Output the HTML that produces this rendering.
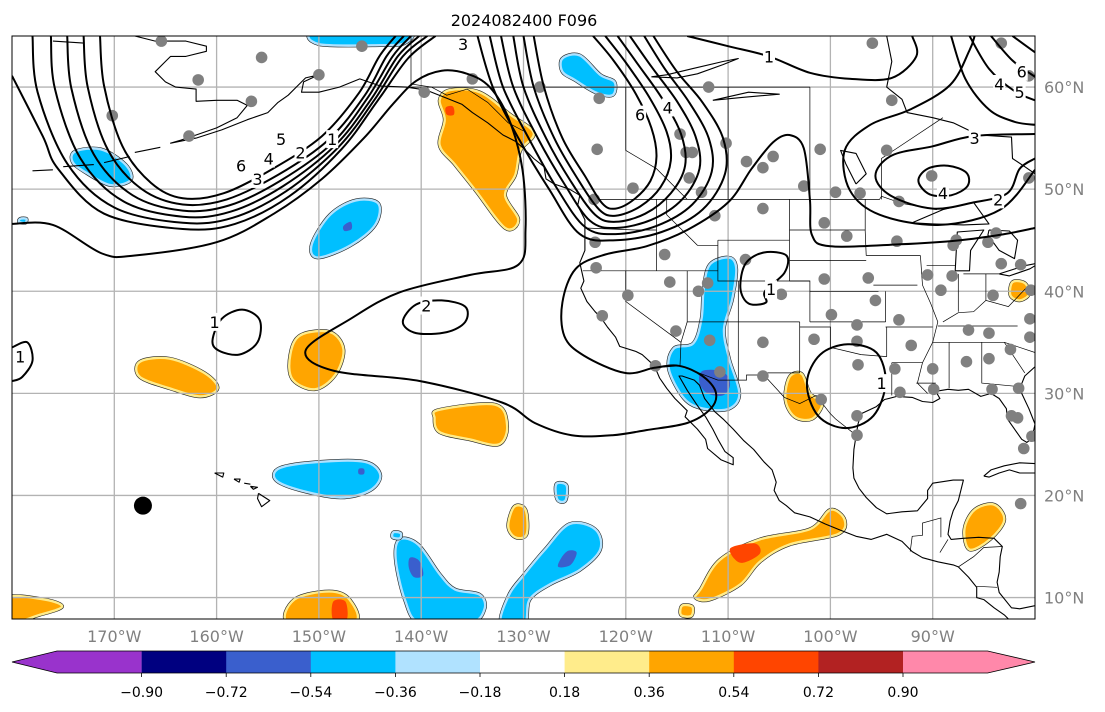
<!DOCTYPE html>
<html><head><meta charset="utf-8"><style>
html,body{margin:0;padding:0;background:#fff;width:1105px;height:712px;overflow:hidden}
svg{display:block;font-family:"DejaVu Sans","Liberation Sans",sans-serif}
</style></head><body>
<svg id="fig" width="1105" height="712" viewBox="0 0 1105 712" xmlns="http://www.w3.org/2000/svg">
<text x="524" y="26" text-anchor="middle" font-size="16" fill="#000">2024082400 F096</text>
<defs><clipPath id="mapclip"><rect x="12" y="36" width="1023" height="583"/></clipPath></defs>
<rect x="12" y="36" width="1023" height="583" fill="#fff"/>
<g id="fills" clip-path="url(#mapclip)"></g>
<g id="grid" clip-path="url(#mapclip)"></g>
<g id="coast" clip-path="url(#mapclip)"></g>
<g id="stations" clip-path="url(#mapclip)"></g>
<g id="contours" clip-path="url(#mapclip)"></g>
<rect x="12" y="36" width="1023" height="583" fill="none" stroke="#000" stroke-width="1"/>
<g id="axes"></g>
<g id="cbar"></g>
</svg>
<script>
// ---- axis domain ----
const lonMin=-180, lonMax=-80, latMin=7.9, latMax=65;
const lonTicks=[-170,-160,-150,-140,-130,-120,-110,-100,-90];
const latTicks=[10,20,30,40,50,60];
// ---- colorbar data ----
const cbLevels=[-0.90,-0.72,-0.54,-0.36,-0.18,0.18,0.36,0.54,0.72,0.90];
const cbColors=['#9933cc','#000080','#3a5fcd','#00bfff','#b0e2ff','#ffffff','#ffec8b','#ffa500','#ff4500','#b22222','#ff88aa'];
// ---- stations (lon,lat) ----
const stations=[[-165.4,64.5],[-155.6,62.9],[-161.8,60.7],[-156.6,58.6],[-170.2,57.2],[-150,61.2],[-162.7,55.2],[-145.8,64.0],
[-139.7,59.5],[-135,60.8],[-128.4,60],[-122.6,58.9],[-111.9,60],[-95.9,64.3],[-94,58.7],[-83.3,64.3],[-80.6,61.1],
[-122.8,53.9],[-119.3,50.1],[-114.7,55.4],[-114.1,53.6],[-113.5,53.6],[-110.2,54.5],[-108.2,52.7],[-105.6,53.2],[-106.6,52.1],
[-113.8,51.1],[-112.6,49.7],[-101,53.9],[-94.5,53.8],[-90.1,51.3],[-80.6,51.1],[-102.6,50.3],[-99.5,49.7],[-97.1,49.6],[-93.3,48.8],
[-123.1,49],[-123,44.8],[-111.3,47.4],[-106.6,48.1],[-100.6,46.7],[-98.4,45.4],[-93.5,44.9],[-88,44.5],[-84.6,44.8],
[-122.9,42.3],[-116.2,43.6],[-115.7,40.9],[-119.8,39.6],[-112,40.8],[-112.9,40],[-108.3,43.1],[-104.8,39.7],[-100.6,41.2],
[-96.3,41.3],[-90.5,41.6],[-83.3,42.7],[-89.2,40.1],[-95.6,39.1],[-99.9,37.7],[-93.3,37.2],[-86.5,36.2],[-80.5,37.3],
[-122.3,37.6],[-115.1,36.1],[-111.8,35.2],[-106.6,35],[-101.6,35.3],[-97.4,36.7],[-97.4,35.1],[-92.1,34.7],[-86.7,33.1],
[-84.5,33.4],[-93.7,32.4],[-97.3,32.8],[-90,32.4],[-89.9,30.4],[-93.2,30.1],[-84.2,30.4],[-81.6,30.5],[-117.1,32.7],
[-110.8,32.1],[-106.6,31.7],[-100.9,29.4],[-97.4,27.8],[-97.4,25.9],[-82.3,27.8],[-81.1,24.6],[-81.4,42.6],[-80.4,40.1],
[-80.5,35.5],[-82.4,34.3],[-81.7,27.6],[-80.3,25.8],[-81.4,19.2],[-83.8,45.7],[-87.7,45],[-88.1,41.5],[-84.1,39.6],[-84.5,35.9]];
const bigDot=[[-167.2,19.0]];
// ---- filled anomaly regions (lon,lat polygons) ----
const orangeBlobs=[
[[-137.2,59.7],[-134.3,59.5],[-131.3,57.3],[-129,55.5],[-130.3,53.8],[-130.8,51.4],[-131.8,49.4],[-130.5,47],[-131.8,46.2],[-134.7,49.9],[-136.7,52.4],[-138.2,54.3],[-137.7,56.8],[-138.2,58.7]],
[[-104,31.6],[-102.8,31.9],[-102,30],[-100.8,29],[-101.8,27.5],[-103.5,27.7],[-104.4,29.4]],
[[-82.2,40.9],[-81,40.8],[-80.6,39.7],[-81.5,39.1],[-82.4,39.6]],
[[-167.5,33.1],[-164.6,33.4],[-161.2,32],[-159.9,30.5],[-161.6,29.7],[-164.6,30.5],[-167.5,31.6]],
[[-151.8,35.7],[-148.9,36],[-147.6,34.3],[-148.4,31.8],[-150.4,30.4],[-152.6,31.4],[-152.8,33.8]],
[[-138.2,28.4],[-132.8,28.9],[-131.6,26.9],[-132.4,25],[-135.3,25.5],[-138.2,26.2],[-138.7,27.6]],
[[-130.9,18.9],[-129.8,18.6],[-129.7,16.2],[-130.8,15.9],[-131.5,17]],
[[-112.7,10.8],[-110.8,13.7],[-106.9,15.7],[-102,16.7],[-100,18.6],[-98.6,17.6],[-99.3,16.2],[-104,15.2],[-106.9,13.5],[-108.8,11.3],[-111.8,9.8],[-113.2,10]],
[[-85.9,18.6],[-84,19.1],[-83,17.6],[-84.4,15.7],[-86.4,14.7],[-86.9,16.7]],
[[-152.4,9.8],[-149,10.6],[-147,9.8],[-146.6,7.5],[-152.9,7.5]],
[[-180.5,10],[-176.8,9.8],[-175.1,9.1],[-177.3,8.3],[-180.5,7.5]],
[[-114.5,9.2],[-113.5,9.1],[-113.6,8.2],[-114.6,8.3]]];
const redCores=[[[-137.6,58],[-136.9,58.1],[-136.8,57.3],[-137.5,57.3]],[[-109.8,14.8],[-107.4,15.3],[-106.9,14.3],[-108.8,13.4]],[[-148.6,9.6],[-147.4,9.6],[-147.3,7.8],[-148.6,7.8]]];
const blueBlobs=[
[[-150.2,65.5],[-141.5,65.5],[-141.6,64.3],[-144,64.1],[-150,64.2]],
[[-126.2,62.8],[-124.5,63.1],[-122.5,61.2],[-121.1,60.5],[-121.3,59.2],[-123,59.5],[-125,60.7],[-126.2,61.5]],
[[-173.8,53.7],[-171.3,53.9],[-168.9,52.4],[-168.4,50.9],[-170.4,50.4],[-172.9,51.7],[-174.1,52.7]],
[[-148.9,47.5],[-146.4,48.9],[-144.2,48.6],[-144.5,46.5],[-146.9,44.5],[-150.1,43.3],[-150.7,44.6]],
[[-111.8,42.6],[-109.9,43.3],[-109.2,42.2],[-109.6,39.2],[-110.4,36.3],[-109.9,33.4],[-108.9,30],[-109.9,28.5],[-112.4,28.5],[-114.3,29.5],[-115.8,32.4],[-115.3,34.4],[-113.4,34.9],[-112.6,37.3],[-112.4,40.1]],
[[-153.8,22.7],[-149.9,23.3],[-145.5,23.3],[-144,22],[-145,20.5],[-147.9,19.8],[-151.8,20.5],[-154.2,21.5]],
[[-126.8,21.1],[-125.8,21],[-125.9,19.5],[-126.7,19.6]],
[[-142.1,15.7],[-140.3,15.2],[-138.2,12.3],[-136.7,10.8],[-134.3,10.3],[-133.8,8.9],[-135.2,7.5],[-140.1,7.5],[-141.6,9.8],[-142.5,13.8]],
[[-125.5,17.2],[-123,16.7],[-122.5,14.7],[-124.5,12.7],[-127.4,11.3],[-129.4,9.8],[-129.9,7.5],[-132.2,7.5],[-131.4,10.3],[-129.9,12.3],[-127.9,14.7]],
[[-179.2,47.1],[-178.6,47.1],[-178.7,46.7],[-179.3,46.8]],
[[-142.7,16.4],[-142,16.3],[-142.1,15.8],[-142.8,15.9]]];
const darkBlueCores=[[[-147.6,46.4],[-146.9,46.8],[-146.8,46.1],[-147.5,45.9]],[[-112.5,32.2],[-110.5,32.1],[-109.8,30.9],[-110.5,29.8],[-112,30],[-112.8,31]],
[[-146.1,22.6],[-145.6,22.6],[-145.6,22.1],[-146.1,22.1]],[[-141.1,13.9],[-140.2,13.6],[-139.8,12.2],[-140.7,12],[-141.2,12.9]],[[-125.6,14.6],[-124.8,14.4],[-125.4,13.2],[-126.6,13],[-126.3,13.9]]];
// ---- contours (lon,lat) ----
const troughLines=[
[[-171.4,65],[-171,60.1],[-169.2,54.2],[-166.4,50.6],[-163.3,49.1],[-159.3,49.6],[-154.5,52],[-149.7,55.2],[-146.1,59.4],[-144.1,63],[-142.5,65]],
[[-173,65],[-172.6,60],[-170.6,53.8],[-167.3,50],[-163.3,48.5],[-159,49],[-154,51.4],[-149.1,54.8],[-145.5,59.2],[-143.4,63],[-141.7,65]],
[[-174.6,65],[-174.2,59.9],[-172,53.4],[-168.2,49.4],[-163.3,47.9],[-158.8,48.4],[-153.8,50.8],[-148.7,54.5],[-145.2,59],[-142.8,63],[-141,65]],
[[-176.2,65],[-175.8,59.8],[-173.3,53],[-169.1,48.8],[-163.3,47.3],[-158.6,47.8],[-153.5,50.3],[-148.4,54.3],[-144.9,58.8],[-142.3,63],[-140.2,65]],
[[-178,65],[-177.5,59.5],[-174.6,52.5],[-170,48.2],[-163.3,46.7],[-158.4,47.2],[-153.2,49.8],[-148.1,54.1],[-144.6,58.7],[-141.8,63],[-139.4,65]],
[[-180,61.1],[-177,55.2],[-175.5,52],[-171,47.6],[-163.3,46.1],[-158.2,46.6],[-152.9,49.3],[-147.8,53.9],[-144.3,58.6],[-141.3,62.8],[-138.6,65]]];
const ridgeLines=[
[[-134.5,65],[-133,60],[-130.5,55],[-127.5,50],[-124.5,45.6],[-121,45],[-116.5,45.8],[-112.5,48],[-110.3,51.5],[-110.5,55],[-112.5,58.5],[-115,61.5],[-117.3,65]],
[[-133.3,65],[-132,60],[-129.5,55],[-126.8,50.2],[-124,46.3],[-121,45.6],[-117,46.4],[-113.5,48.5],[-111.6,51.7],[-111.9,55],[-113.8,58.5],[-116.2,61.8],[-118.2,65]],
[[-132.2,65],[-131,60],[-128.6,55],[-126,50.5],[-123.5,46.9],[-121,46.2],[-117.5,47],[-114.5,49],[-112.8,52],[-113.2,55.2],[-115,58.6],[-117.5,62],[-119.6,65]],
[[-131,65],[-130,60],[-127.8,55],[-125.4,50.8],[-123,47.5],[-121,46.8],[-118.1,47.6],[-115.6,49.6],[-114.2,52.3],[-114.6,55.4],[-116.4,58.8],[-118.8,62.2],[-120.8,65]],
[[-130,65],[-129,60],[-127,55],[-124.7,51],[-122.6,48],[-121,47.4],[-118.6,48.3],[-116.6,50.2],[-115.6,52.8],[-116,55.6],[-117.7,59],[-120,62.4],[-122,65]],
[[-129,65],[-128,60],[-126.2,55],[-124,51.3],[-122.3,48.6],[-121,48.1],[-119.2,49],[-117.6,50.8],[-117,53.2],[-117.5,56],[-119,59.3],[-121.2,62.6],[-123.2,65]]];
const otherLines=[
[[-180,46.6],[-176,46.5],[-171.2,43.7],[-168,43.5],[-160,44.8],[-154.4,47.6],[-149.7,51],[-145.6,55],[-142.8,58.3],[-140.5,60.6],[-138,61.6],[-135.5,61.3],[-133.3,60],[-131.4,56.8],[-130.1,51.9],[-129.8,46],[-130.5,42.6],[-135.2,41.6],[-142.1,39.9],[-146.9,37.3],[-151.3,34.2],[-148.5,32.2],[-140.1,31.2],[-132.1,29.1],[-128.9,27.1],[-125.3,25.9],[-121.3,25.9],[-118,26.4],[-114,27.1],[-111.7,28.5],[-111.2,30.1],[-112.5,31.7],[-114.8,32.7],[-117.2,32.5],[-120.1,32],[-124.1,33.7],[-126,35.6],[-126.2,38.9],[-124.9,42.2],[-122,43.6],[-118,44.4],[-114,46],[-110,48.7],[-107.7,52],[-105.6,54.6],[-104,55.3],[-102.6,54],[-102,49],[-101.8,45.5],[-100,44.4],[-93.2,44.6],[-87.3,45],[-83,45.6],[-80,46.2]],
[[-114,65],[-110,64],[-106,63],[-102,61.4],[-98,60.8],[-94,60.9],[-91.6,63],[-92,65]],
[[-80,51.9],[-83.4,48],[-89.3,46.5],[-95.2,47.5],[-98.1,49.9],[-98.6,53.8],[-96.1,56.3],[-92.2,57.8],[-88.3,60.2],[-86.4,63.6],[-85.9,65]],
[[-80,55.4],[-86,55.2],[-90,54.2],[-94,53.3],[-95.6,51.3],[-94,49.3],[-90,48.1],[-86,48.7],[-82.7,49.6],[-81.5,52],[-80,53]],
[[-88.2,65],[-86.8,60.8],[-84.5,57.8],[-82,56.6],[-80,56.3]],
[[-86.4,65],[-84.5,61.8],[-82,59.6],[-80,58.7]],
[[-84.3,65],[-82.2,62.6],[-80,61]],
[[-82.2,65],[-80,63.4]],
[[-180,34.5],[-178.5,35],[-178,33.2],[-179,31.6],[-180,31.2]]];
const closedLines=[
[[-141.8,37],[-140.5,38.7],[-138,39.1],[-135.7,38.5],[-135.7,37],[-137.5,36],[-140.5,35.9]],
[[-160.4,35.2],[-159.5,37.3],[-157.5,38.2],[-155.8,37.2],[-156,35],[-157.8,33.8],[-159.8,34.2]],
[[-102.3,31],[-101,33.8],[-98.3,34.8],[-95.5,34],[-94.6,31],[-95.8,27.8],[-98.5,26.6],[-101.2,27.8]],
[[-108.8,40.3],[-108.3,42.7],[-106.5,43.8],[-104.3,43.5],[-104.5,41.8],[-106.4,40],[-106.3,38.9],[-108,38.8]],
[[-91.4,50.8],[-90.5,52],[-88.5,52.3],[-86.7,51.6],[-86.6,50.3],[-88.2,49.4],[-90.3,49.5]]];
const contourLabels=[['6',-157.6,52.3],['3',-156,51],['4',-154.9,53],['5',-153.7,54.9],['2',-151.8,53.6],['1',-148.7,54.9],['3',-135.9,64.2],
['6',-118.6,57.3],['4',-115.9,58],['1',-106,63],['2',-139.5,38.6],['1',-160.2,37],['1',-179.2,33.6],['1',-105.8,40.2],['1',-95,31],
['3',-85.9,55],['4',-89,49.6],['2',-83.6,49],['4',-83.5,60.3],['5',-81.5,59.5],['6',-81.3,61.5]];
// ---- coastlines & borders ----
const coastLines=[
[[-168,65],[-166,64.5],[-163,64.5],[-161,64],[-161,63.5],[-163,63],[-164.5,63],[-165,62.5],[-166,61.5],[-165,60.5],[-164,60],[-162,59.8],[-162,58.6],[-160,58.7],[-158,58.7],[-157,58.2],[-158,57],[-160,56],[-162,55.3],[-163.5,54.8],[-164.5,54.5],[-162,55],[-159.5,55.8],[-157,56.8],[-155,57.5],[-154,58.5],[-153,59.2],[-152,60.2],[-151.3,60.9],[-150,61.2],[-151.5,60.5],[-151.7,59.5],[-150,59.5],[-148,60],[-146,60.8],[-144,60.1],[-141.5,60],[-139.5,59.7],[-137.5,58.9],[-136,58.3],[-135,57.5],[-133.5,56.5],[-132,55.3],[-130.8,54.7],[-130,54],[-129,53],[-128,52.2],[-127.8,51],[-127,50.5],[-125.5,50],[-124.5,49.4],[-124.7,48.4],[-124,47],[-124,46.2],[-124,44],[-124.5,42.8],[-124.1,41],[-124.4,40.3],[-123.8,39],[-123,38],[-122.5,37.5],[-122,36.8],[-121.8,36.5],[-121,35.5],[-120.6,34.6],[-119,34.1],[-118.4,33.8],[-117.2,32.7],[-116.7,31.5],[-116,30.5],[-115.2,29.5],[-114,28.3],[-114.2,27.7],[-113,26.5],[-112.2,25.5],[-112,24.6],[-110.7,23.5],[-109.5,23],[-109.5,23.7],[-110.3,24.3],[-111,25.5],[-111.5,26.5],[-112.2,27.7],[-113,28.8],[-114,30.3],[-114.8,31.7],[-114.5,31.7],[-113.3,31.3],[-112.8,30.8],[-112.3,29.5],[-111.3,28.2],[-110.5,27.5],[-109.5,26.5],[-108.5,25.4],[-107.5,24.5],[-106.5,23.3],[-105.7,22.5],[-105.3,21.3],[-105.5,20.5],[-105,19.5],[-104.3,19],[-103.5,18.3],[-102,17.9],[-100.5,17.2],[-99,16.6],[-97.5,16],[-96,15.7],[-94.5,16.2],[-93,15.5],[-92,14.5],[-91,13.9],[-89.5,13.5],[-88,13.2],[-87.5,13],[-87,12.5],[-86.5,12],[-85.7,11],[-85.7,10],[-85,9.8],[-84,9],[-83,8.3],[-82.5,7.8]],
[[-80,9.2],[-81.5,8.9],[-82.3,9],[-83.5,10.5],[-83.7,11.5],[-83.5,12.5],[-83.4,14],[-83.2,15],[-84,15.8],[-85.5,15.9],[-87,15.8],[-88.2,15.7],[-88.5,16.2],[-88.3,17.5],[-88,18.5],[-87.5,19.5],[-87,21.5],[-88,21.5],[-90,21.2],[-90.5,20.5],[-90.5,19.7],[-91.5,18.5],[-93,18.4],[-94.5,18.2],[-95.5,18.8],[-96.5,19.8],[-97.2,20.7],[-97.7,21.7],[-97.8,22.7],[-97.7,24.5],[-97.5,25.8],[-97.3,27],[-97,28],[-95.5,28.7],[-94.7,29.4],[-93.5,29.7],[-92,29.6],[-91,29.2],[-90,29.1],[-89.3,29.5],[-89.7,30.2],[-88.5,30.4],[-87.5,30.3],[-86.5,30.4],[-85.3,29.7],[-84.3,30],[-83.5,29.5],[-82.8,28.5],[-82.7,27.5],[-82,26.5],[-81.3,25.5],[-80.8,25.2],[-80.4,25.5],[-80.1,26.5],[-80,27],[-80.6,28.5],[-81.3,30],[-81.4,30.7],[-81,31.7],[-80,32.6]],
[[-85,21.9],[-84.3,22.5],[-83,22.9],[-81.5,23.2],[-79.5,23.1],[-79.5,22.2],[-81.5,22.2],[-82.5,22.5],[-83.5,22.2],[-84.5,21.8],[-85,21.9]],
[[-94.5,65],[-94,62.5],[-94.5,60],[-93,58.8],[-92.5,57.5],[-90,57],[-88,56.5],[-85.5,55.3],[-82.3,55.1],[-82.2,53],[-81,52.2],[-80,51.5]],
[[-92,46.7],[-89,48],[-86,48.7],[-84.5,46.6],[-87,46.5],[-90,46.6],[-92,46.7]],
[[-87.8,42],[-87.6,45.8],[-85,46],[-86.3,44],[-86.4,42],[-87.8,42]],
[[-84.5,46],[-82.5,45.9],[-81.7,45],[-82,43.2],[-83.5,44],[-84.6,45.5],[-84.5,46]],
[[-83.5,41.7],[-81,42.5],[-79.5,42.8],[-80.5,42.2],[-82.5,41.5],[-83.5,41.7]],
[[-97.5,50.5],[-96.5,51.5],[-97.5,53.5],[-99,53.8],[-98.5,52.5],[-97.5,50.5]],
[[-117.5,61],[-116,61.2],[-113.5,61.8],[-110.5,62.5],[-109,62.8],[-110.5,62.2],[-113,61.3],[-115,60.9],[-117.5,61]],
[[-111.5,58.7],[-108,59.5],[-105,59.3],[-108.5,59],[-111.5,58.7]],
[[-160.2,22.2],[-159.3,22.2],[-159.4,21.8],[-160.2,22.2]],[[-158.3,21.6],[-157.7,21.6],[-157.8,21.3],[-158.3,21.6]],
[[-157.3,21.2],[-156.7,21.1]],[[-156.7,20.9],[-156,20.8],[-156.4,20.6],[-156.7,20.9]],
[[-155.9,20.2],[-154.8,19.5],[-155.6,18.9],[-156,19.7],[-155.9,20.2]],
[[-178,51.8],[-176,51.9]],[[-175,52.2],[-172,52.4]],[[-171,52.6],[-168.5,53.2]],[[-168,53.6],[-165.5,54.1]],[[-176,64.5],[-173,64.3]]];
const borderLines=[
[[-141,65],[-141,60.3],[-139,60],[-137.5,59.2],[-135.5,59.8],[-133.5,58.5],[-131.5,56.5],[-130,55.7]],
[[-141,60],[-102,60]],[[-120,60],[-120,53.8],[-117,52],[-114,49]],[[-110,60],[-110,49]],[[-102,60],[-102,49]],[[-95,49],[-95,53],[-89,57]],
[[-123.3,49],[-95.2,49],[-95,49.3],[-93,48.6],[-89.6,48]],
[[-124,46.2],[-119,46],[-117,46]],[[-124.2,42],[-111,42]],[[-117,49],[-117,42]],[[-120,42],[-120,39],[-114.6,35]],[[-114,42],[-114,37]],
[[-114,37],[-114.6,35],[-114.7,32.7]],[[-114,37],[-109,37]],[[-109,41],[-109,31.3]],[[-111,45],[-111,41],[-109,41]],
[[-116,49],[-116,47.5],[-114.5,46],[-113,44.5],[-111,44.5]],[[-111,45],[-104,45]],[[-104,49],[-104,41]],[[-109,41],[-102,41]],
[[-104,41],[-102,41],[-102,37]],[[-109,37],[-103,37]],[[-103,37],[-103,32]],[[-106.6,32],[-103,32]],[[-103,36.5],[-100,36.5],[-100,34.5],[-97,33.8],[-94.5,33.6]],
[[-104,46],[-96.6,46]],[[-104,43],[-96.5,43]],[[-102,40],[-95.3,40]],[[-102,37],[-94.6,37]],[[-96.6,49],[-96.6,45.9],[-96.5,43.5]],
[[-96.5,43.5],[-91.2,43.5]],[[-95.8,40.6],[-91.5,40.6]],[[-94.6,36.5],[-90,36.5]],[[-94,33],[-91,33]],[[-94,33],[-94,29.8]],
[[-94.6,40],[-94.6,37]],[[-94.5,36.5],[-94.5,33.6]],[[-91.2,43.5],[-91,40.6],[-90.2,38.8],[-89.5,37],[-90,35],[-91,33],[-91.5,31],[-90.5,30]],
[[-91.6,31],[-89.7,31]],[[-88.4,35],[-88.4,30.5]],[[-85.2,35],[-85.2,31],[-82,30.7]],[[-89.5,36.6],[-81.7,36.6]],[[-90,35],[-84.3,35]],
[[-89,37],[-87.5,37.9],[-86,38],[-84.8,39.1],[-82.6,38.5],[-80.6,40.6]],[[-87.5,41.7],[-87.5,38]],[[-84.8,41.7],[-84.8,39.1]],
[[-90.6,42.5],[-87.8,42.5]],[[-87,41.7],[-83.5,41.7]],[[-84.3,35],[-83,35],[-81,32]],[[-83,35],[-80,34]],
[[-117.1,32.5],[-114.7,32.7],[-111,31.3],[-108.2,31.3],[-108.2,31.8],[-106.5,31.8],[-104.5,29.6],[-103,29],[-101.4,29.8],[-100,28],[-99.5,27.5],[-97.5,25.9]],
[[-92.2,14.5],[-92,16],[-91,16.1],[-91,17.3],[-89.2,17.8],[-89.2,15.9]],[[-89.3,14.4],[-88.5,15.7]],[[-87.5,13],[-86,14],[-85,14.9],[-83.2,15]],[[-85.7,11.1],[-83.7,11]]];

const NS='http://www.w3.org/2000/svg';
const X=lon=>12+(lon-lonMin)/(lonMax-lonMin)*1023;
const Y=lat=>36+(latMax-lat)/(latMax-latMin)*583;
function el(tag,attrs,parent){const e=document.createElementNS(NS,tag);for(const k in attrs)e.setAttribute(k,attrs[k]);parent.appendChild(e);return e;}
function smooth(pts,closed){
  const p=pts.map(q=>[X(q[0]),Y(q[1])]);const n=p.length;
  let d='M'+p[0][0].toFixed(1)+','+p[0][1].toFixed(1);
  const get=i=>closed?p[(i+n)%n]:p[Math.max(0,Math.min(n-1,i))];
  const segs=closed?n:n-1;
  for(let i=0;i<segs;i++){const p0=get(i-1),p1=get(i),p2=get(i+1),p3=get(i+2);
    const c1=[p1[0]+(p2[0]-p0[0])/6,p1[1]+(p2[1]-p0[1])/6],c2=[p2[0]-(p3[0]-p1[0])/6,p2[1]-(p3[1]-p1[1])/6];
    d+='C'+c1.map(v=>v.toFixed(1))+' '+c2.map(v=>v.toFixed(1))+' '+p2[0].toFixed(1)+','+p2[1].toFixed(1);}
  return d+(closed?'Z':'');
}
function poly(pts){return 'M'+pts.map(q=>X(q[0]).toFixed(1)+','+Y(q[1]).toFixed(1)).join('L');}

const fills=document.getElementById('fills');
function blob(list,main,fringe,name){list.forEach(b=>{const d=smooth(b,true);
  const o=el('path',{d:d,fill:fringe,stroke:'#222','stroke-width':3.6,'stroke-linejoin':'round'},fills);
  
  
  const f=el('path',{d:d,fill:main,stroke:fringe,'stroke-width':2.4,'stroke-linejoin':'round'},fills);
  
  });}
blob(orangeBlobs,cbColors[7],cbColors[6],'positive-anomaly-region');
blob(blueBlobs,cbColors[3],cbColors[4],'negative-anomaly-region');
redCores.forEach(b=>{const f=el('path',{d:smooth(b,true),fill:cbColors[8]},fills);
  
  });
darkBlueCores.forEach(b=>{const f=el('path',{d:smooth(b,true),fill:cbColors[2]},fills);
  
  });

const grid=document.getElementById('grid');
lonTicks.forEach(v=>{const l=el('line',{x1:X(v),x2:X(v),y1:36,y2:619,stroke:'#b3b3b3','stroke-width':1.3},grid);
  
  });
latTicks.forEach(v=>{const l=el('line',{x1:12,x2:1035,y1:Y(v),y2:Y(v),stroke:'#b3b3b3','stroke-width':1.3},grid);
  
  });

const coast=document.getElementById('coast');
coastLines.forEach(c=>{const p=el('path',{d:poly(c),fill:'none',stroke:'#000','stroke-width':1.1,'stroke-linejoin':'round'},coast);
  
  });
borderLines.forEach(c=>{const p=el('path',{d:poly(c),fill:'none',stroke:'#000','stroke-width':0.7},coast);
  
  });

const st=document.getElementById('stations');
stations.forEach(s=>{const c=el('circle',{cx:X(s[0]),cy:Y(s[1]),r:5.8,fill:'#808080'},st);
  
  });
bigDot.forEach(s=>{const c=el('circle',{cx:X(s[0]),cy:Y(s[1]),r:9,fill:'#000'},st);
  
  });

const ct=document.getElementById('contours');
[troughLines,ridgeLines,otherLines].forEach(group=>group.forEach(c=>{const p=el('path',{d:smooth(c,false),fill:'none',stroke:'#000','stroke-width':2},ct);
  
  }));
closedLines.forEach(c=>{const p=el('path',{d:smooth(c,true),fill:'none',stroke:'#000','stroke-width':2},ct);
  
  });
contourLabels.forEach(l=>{const x=X(l[1]),y=Y(l[2]);
  const r=el('rect',{x:x-6,y:y-9,width:12,height:18,fill:'#fff'},ct);
  
  
  const t=el('text',{x:x,y:y+6,'text-anchor':'middle','font-size':16,fill:'#000'},ct);
  t.textContent=l[0];
  
  });

const ax=document.getElementById('axes');
lonTicks.forEach(v=>{const t=el('text',{x:X(v),y:642,'text-anchor':'middle','font-size':16,fill:'#808080'},ax);
  t.textContent=Math.abs(v)+'°W';
  
  });
latTicks.forEach(v=>{const t=el('text',{x:1044,y:Y(v)+6,'text-anchor':'start','font-size':16,fill:'#808080'},ax);
  t.textContent=v+'°N';
  
  });

const cb=document.getElementById('cbar');
const cbX0=57,cbStep=84.6,cbY=651,cbH=22;
const cbEnd=cbX0+cbStep*11;
cbColors.forEach((c,i)=>{let node;const x0=cbX0+cbStep*(i-1);
  if(i===0){node=el('polygon',{points:`12,${cbY+cbH/2} ${cbX0+cbStep},${cbY} ${cbX0+cbStep},${cbY+cbH}`,fill:c},cb);
    node.setAttribute('points',`12,${cbY+cbH/2} ${cbX0},${cbY} ${cbX0+cbStep},${cbY} ${cbX0+cbStep},${cbY+cbH} ${cbX0},${cbY+cbH}`);}
  else if(i===cbColors.length-1){const xs=cbX0+cbStep*i;node=el('polygon',{points:`${xs},${cbY} ${cbEnd},${cbY} 1035,${cbY+cbH/2} ${cbEnd},${cbY+cbH} ${xs},${cbY+cbH}`,fill:c},cb);}
  else node=el('rect',{x:cbX0+cbStep*i,y:cbY,width:cbStep+0.5,height:cbH,fill:c},cb);
  
  });
const outline=el('polygon',{points:`12,${cbY+cbH/2} ${cbX0},${cbY} ${cbEnd},${cbY} 1035,${cbY+cbH/2} ${cbEnd},${cbY+cbH} ${cbX0},${cbY+cbH}`,fill:'none',stroke:'#000','stroke-width':0.8},cb);


cbLevels.forEach((v,i)=>{const x=cbX0+cbStep*(i+1);
  const tk=el('line',{x1:x,x2:x,y1:cbY+cbH,y2:cbY+cbH+4,stroke:'#000','stroke-width':0.8},cb);
  
  
  const t=el('text',{x:x,y:697,'text-anchor':'middle','font-size':14,fill:'#000'},cb);
  t.textContent=(v<0?'\u2212':'')+Math.abs(v).toFixed(2);
  
  });
</script>
</body></html>
